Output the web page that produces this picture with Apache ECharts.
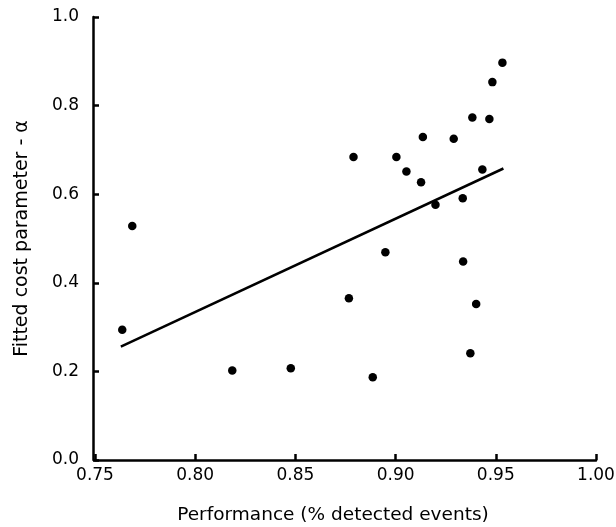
<!DOCTYPE html>
<html>
<head>
<meta charset="utf-8">
<script src="https://cdn.jsdelivr.net/npm/echarts@6/dist/echarts.min.js"></script>
<style>html,body{margin:0;padding:0;background:#fff}#c{width:616px;height:527px}</style>
</head>
<body>
<div id="c"></div>
<script>
// Observed points: performance (x) vs fitted cost parameter alpha (y)
var perfX = [0.7636, 0.7686, 0.8185, 0.8477, 0.8767, 0.8790, 0.8886, 0.8949, 0.9004, 0.9054, 0.9127, 0.9136,
             0.9199, 0.9290, 0.9335, 0.9337, 0.9373, 0.9383, 0.9402, 0.9433, 0.9468, 0.9483, 0.9533];
var alphaY = [0.294, 0.528, 0.202, 0.207, 0.365, 0.684, 0.187, 0.469, 0.684, 0.651, 0.627, 0.729,
              0.576, 0.725, 0.591, 0.448, 0.241, 0.773, 0.352, 0.656, 0.770, 0.853, 0.897];
// Fitted line end points
var fitX = [0.7629, 0.9538];
var fitY = [0.256, 0.658];
// Axis ticks
var xTicks = [0.75, 0.80, 0.85, 0.90, 0.95, 1.00];
var yTicks = [0.0, 0.2, 0.4, 0.6, 0.8, 1.0];

var pts = perfX.map(function (x, i) { return [x, alphaY[i]]; });
var fit = fitX.map(function (x, i) { return [x, fitY[i]]; });

var font = 'DejaVu Sans';
var chart = echarts.init(document.getElementById('c'), null, {renderer: 'canvas'});
chart.setOption({
  animation: false,
  backgroundColor: '#fff',
  grid: {left: 95, right: 20, top: 17, bottom: 67, containLabel: false, outerBoundsMode: 'none'},
  xAxis: {
    type: 'value',
    min: xTicks[0], max: xTicks[xTicks.length - 1], interval: 0.05,
    name: 'Performance (% detected events)',
    nameLocation: 'middle', nameGap: 46,
    nameTextStyle: {fontFamily: font, fontSize: 18.5, color: '#000', padding: [0, 25, 0, 0]},
    axisLine: {show: true, lineStyle: {color: '#000', width: 2.5}},
    axisTick: {show: true, inside: true, length: 6, lineStyle: {color: '#000', width: 2.5}},
    axisLabel: {fontFamily: font, fontSize: 17, color: '#000', margin: 7,
      formatter: function (v) { return v.toFixed(2); }},
    splitLine: {show: false}
  },
  yAxis: {
    type: 'value',
    min: yTicks[0], max: yTicks[yTicks.length - 1], interval: 0.2,
    offset: 2,
    name: 'Fitted cost parameter - α',
    nameLocation: 'middle', nameGap: 61, nameRotate: 90,
    nameTextStyle: {fontFamily: font, fontSize: 19, color: '#000'},
    axisLine: {show: true, lineStyle: {color: '#000', width: 2.5}},
    axisTick: {show: true, inside: true, length: 6, lineStyle: {color: '#000', width: 2.5}},
    axisLabel: {fontFamily: font, fontSize: 17, color: '#000', margin: 14,
      formatter: function (v) { return v.toFixed(1); }},
    splitLine: {show: false}
  },
  series: [
    {
      type: 'line', data: fit, symbol: 'none',
      lineStyle: {color: '#000', width: 2.5}, z: 2
    },
    {
      type: 'scatter', data: pts, symbol: 'circle', symbolSize: 8.5,
      itemStyle: {color: '#000', opacity: 1}, z: 3
    }
  ]
});
</script>
</body>
</html>
